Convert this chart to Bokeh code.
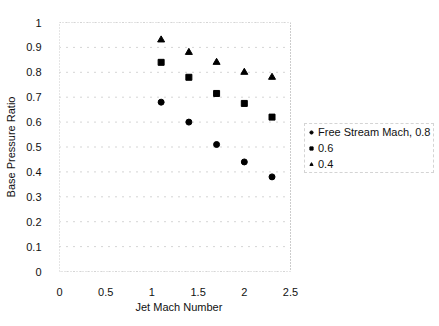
from bokeh.plotting import figure
from bokeh.models import FixedTicker, Legend, LegendItem, Range1d, Title
from bokeh.embed import file_html
from bokeh.resources import INLINE

jet_mach = [1.1, 1.4, 1.7, 2.0, 2.3]
ratio_08 = [0.68, 0.60, 0.51, 0.44, 0.38]
ratio_06 = [0.84, 0.78, 0.715, 0.675, 0.62]
ratio_04 = [0.93, 0.88, 0.84, 0.80, 0.78]
x_ticks = [0, 0.5, 1, 1.5, 2, 2.5]
y_ticks = [0, 0.1, 0.2, 0.3, 0.4, 0.5, 0.6, 0.7, 0.8, 0.9, 1]
legend_labels = ["Free Stream Mach, 0.8", "0.6", "0.4"]

FONT = "Liberation Sans"
x_lo, x_hi = x_ticks[0], x_ticks[-1]
y_lo, y_hi = y_ticks[0], y_ticks[-1]

# plot area spans x_lo..x_hi; the frame extends further right to host the legend
p = figure(width=439, height=326, output_backend="svg", toolbar_location=None,
           x_range=Range1d(x_lo, x_hi * 376 / 231), y_range=Range1d(y_lo, y_hi),
           min_border_left=59, min_border_right=4, min_border_top=22, min_border_bottom=55)
p.background_fill_color = "white"
p.border_fill_color = "white"
p.outline_line_color = None

# faint dotted horizontal grid across the plot area only
p.segment(x0=[x_lo] * len(y_ticks), x1=[x_hi] * len(y_ticks), y0=y_ticks, y1=y_ticks,
          line_color="#aaaaaa", line_dash="1 6", line_width=1)
# dotted plot-area border
p.quad(left=[x_lo], right=[x_hi], bottom=[y_lo], top=[y_hi], fill_color=None,
       line_color="#999999", line_dash="1 2", line_width=1)

r1 = p.scatter(jet_mach, ratio_08, marker="circle", size=6, color="black")
r2 = p.scatter(jet_mach, ratio_06, marker="square", size=6, color="black")
r3 = p.scatter(jet_mach, ratio_04, marker="triangle", size=7, color="black")

p.xaxis.ticker = FixedTicker(ticks=x_ticks)
p.yaxis.ticker = FixedTicker(ticks=y_ticks)
p.xaxis.major_label_overrides = {t: ("%g" % t) for t in x_ticks}
p.yaxis.major_label_overrides = {t: ("%g" % t) for t in y_ticks}
for ax in (p.xaxis, p.yaxis):
    ax.axis_line_color = None
    ax.major_tick_line_color = None
    ax.minor_tick_line_color = None
    ax.major_label_text_font = FONT
    ax.major_label_text_font_size = "11px"
    ax.major_label_text_color = "#111111"
    ax.axis_label_text_font = FONT
    ax.axis_label_text_font_size = "11px"
    ax.axis_label_text_font_style = "normal"
    ax.axis_label_text_color = "#111111"
p.yaxis.axis_label = "Base Pressure Ratio"
p.xaxis.major_label_standoff = 10
p.yaxis.major_label_standoff = 12
p.yaxis.axis_label_standoff = 6
p.grid.visible = False

# x-axis title centred under the plot area (not the wider frame)
xtitle = Title(text="Jet Mach Number", align="left", offset=76, standoff=0,
               text_font=FONT, text_font_size="11px", text_font_style="normal",
               text_color="#111111")
p.add_layout(xtitle, "below")

legend = Legend(items=[LegendItem(label=legend_labels[0], renderers=[r1]),
                       LegendItem(label=legend_labels[1], renderers=[r2]),
                       LegendItem(label=legend_labels[2], renderers=[r3])],
                location=(245, 98))
legend.label_text_font = FONT
legend.label_text_font_size = "11px"
legend.label_text_color = "#111111"
legend.glyph_width = 8
legend.glyph_height = 10
legend.spacing = 4
legend.padding = 2
legend.margin = 0
legend.label_standoff = 3
legend.label_height = 12
legend.border_line_color = "#aaaaaa"
legend.border_line_dash = "1 2"
legend.background_fill_alpha = 0
p.add_layout(legend, "center")

out = open("out.html", "w")
out.write(file_html(p, INLINE))
out.close()
